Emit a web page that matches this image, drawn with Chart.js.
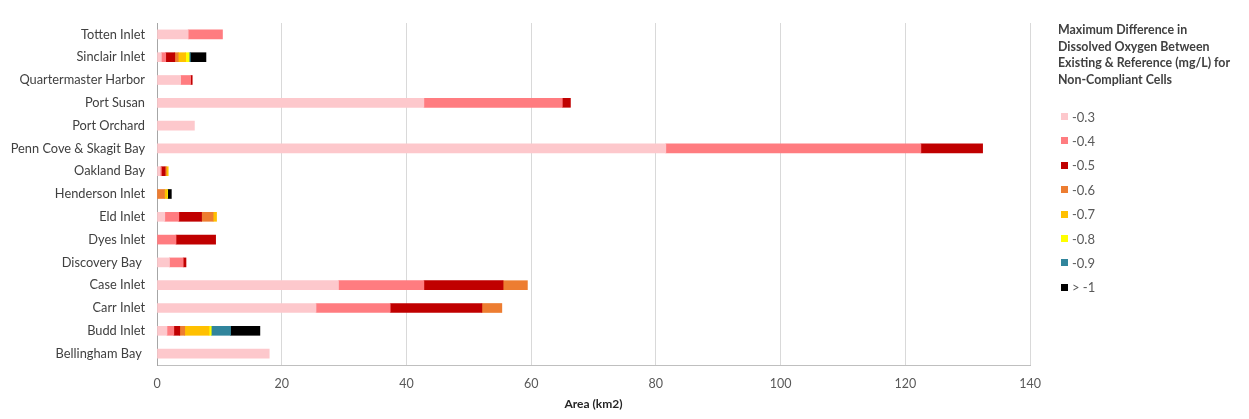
<!DOCTYPE html>
<html>
<head>
<meta charset="utf-8">
<script src="https://cdn.jsdelivr.net/npm/chart.js@4"></script>
<style>
  html, body { margin: 0; padding: 0; background: #fff; }
  #wrap { position: relative; width: 1249px; height: 419px; font-family: Lato, "DejaVu Sans", sans-serif; }
  #legend { position: absolute; left: 1058px; top: 22px; width: 190px; color: #404040; }
  #legend .title { font-weight: bold; font-size: 12.4px; line-height: 16.6px; color: #404040; margin-bottom: 16px; }
  #legend .item { display: flex; align-items: center; height: 24.4px; font-size: 13px; color: #595959; }
  #legend .sw { width: 7px; height: 7px; margin: 0 4px 0 3px; }
</style>
</head>
<body>
<div id="wrap">
  <canvas id="chart" width="1249" height="419"></canvas>
  <div id="legend"></div>
</div>
<script>
// categories, top to bottom
const inlets = ['Totten Inlet', 'Sinclair Inlet', 'Quartermaster Harbor', 'Port Susan', 'Port Orchard',
  'Penn Cove & Skagit Bay', 'Oakland Bay', 'Henderson Inlet', 'Eld Inlet', 'Dyes Inlet',
  'Discovery Bay ', 'Case Inlet', 'Carr Inlet', 'Budd Inlet', 'Bellingham Bay '];

// area (km2) per DO-difference class
const do03 = [5.0, 0.7, 3.8, 42.8, 6.0, 81.6, 0.5, 0, 1.25, 0, 2.0, 29.1, 25.5, 1.6, 18.0];
const do04 = [5.5, 0.7, 1.6, 22.2, 0, 40.9, 0.2, 0, 2.25, 3.05, 2.2, 13.7, 11.9, 1.1, 0];
const do05 = [0, 1.45, 0.25, 1.3, 0, 9.9, 0.6, 0, 3.65, 6.35, 0.45, 12.7, 14.7, 0.95, 0];
const do06 = [0, 0.55, 0, 0, 0, 0, 0.2, 1.2, 1.85, 0, 0, 3.9, 3.2, 0.8, 0];
const do07 = [0, 1.2, 0, 0, 0, 0, 0.3, 0.4, 0.55, 0, 0, 0, 0, 3.9, 0];
const do08 = [0, 0.55, 0, 0, 0, 0, 0, 0.1, 0, 0, 0, 0, 0, 0.35, 0];
const do09 = [0, 0.2, 0, 0, 0, 0, 0, 0, 0, 0, 0, 0, 0, 3.1, 0];
const do10 = [0, 2.5, 0, 0, 0, 0, 0, 0.6, 0, 0, 0, 0, 0, 4.7, 0];

const classLabels = ['-0.3', '-0.4', '-0.5', '-0.6', '-0.7', '-0.8', '-0.9', '> -1'];
const classData = [do03, do04, do05, do06, do07, do08, do09, do10];
const classColors = ['#fdc8cc', '#ff7c80', '#c00000', '#ed7d31', '#ffc000', '#ffff00', '#31859c', '#000000'];

const xTicks = [0, 20, 40, 60, 80, 100, 120, 140];

const ctx = document.getElementById('chart').getContext('2d');
new Chart(ctx, {
  type: 'bar',
  data: {
    labels: inlets,
    datasets: classLabels.map((lab, i) => ({
      label: lab,
      data: classData[i].map(v => v || null), // skip empty segments
      backgroundColor: classColors[i],
      barThickness: 9,
      borderWidth: 0
    }))
  },
  options: {
    indexAxis: 'y',
    responsive: false,
    animation: false,
    layout: { padding: { top: 23, right: 219, left: 0, bottom: 0 } },
    plugins: { legend: { display: false }, tooltip: { enabled: false } },
    scales: {
      x: {
        stacked: true,
        min: 0,
        max: 140,
        afterBuildTicks: s => { s.ticks = xTicks.map(v => ({ value: v })); },
        afterFit: s => { s.height = 54; },
        grid: { color: '#d9d9d9', drawTicks: false },
        border: { display: true, color: '#bfbfbf' },
        ticks: { color: '#595959', font: { family: 'Lato', size: 12.5 }, padding: 11 },
        title: {
          display: true,
          text: 'Area (km2)',
          color: '#262626',
          font: { family: 'Lato', size: 12, weight: 'bold' },
          padding: { top: 0, bottom: 8 }
        }
      },
      y: {
        stacked: true,
        afterFit: s => { s.width = 157; },
        grid: { display: false, drawTicks: false },
        border: { display: true, color: '#a6a6a6' },
        ticks: { color: '#404040', font: { family: 'Lato', size: 12.8 }, padding: 12, autoSkip: false }
      }
    }
  }
});

// legend on the right
const legend = document.getElementById('legend');
legend.innerHTML = '<div class="title">Maximum Difference in<br>Dissolved Oxygen Between<br>Existing &amp; Reference (mg/L) for<br>Non-Compliant Cells</div>' +
  classLabels.map((lab, i) =>
    '<div class="item"><span class="sw" style="background:' + classColors[i] + '"></span>' + lab + '</div>'
  ).join('');
</script>
</body>
</html>
